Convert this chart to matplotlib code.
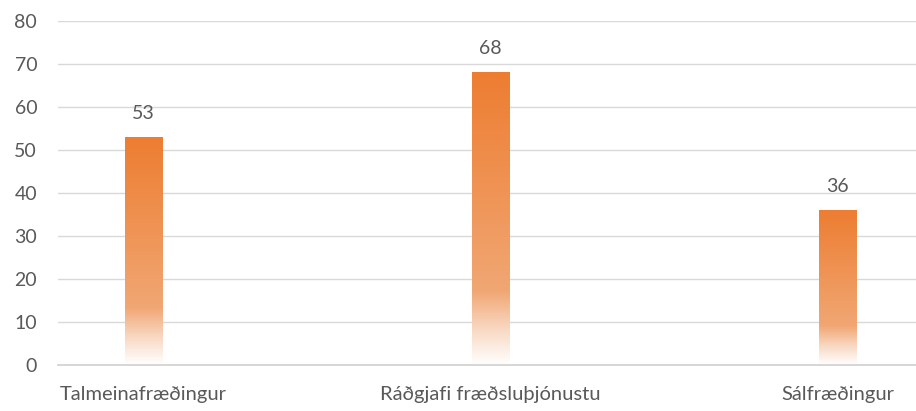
import numpy as np
import matplotlib
matplotlib.use("Agg")
import matplotlib.pyplot as plt
from matplotlib.colors import LinearSegmentedColormap

categories = ["Talmeinafræðingur", "Ráðgjafi fræðsluþjónustu", "Sálfræðingur"]
values = [53, 68, 36]
yticks = [0, 10, 20, 30, 40, 50, 60, 70, 80]

plt.rcParams['font.family'] = ['Lato', 'DejaVu Sans']
text_color = "#595959"

fig = plt.figure(figsize=(9.16, 4.11), dpi=100)
ax = fig.add_axes([58/916, 46/411, 1 - 58/916, (365-21)/411])

cmap = LinearSegmentedColormap.from_list(
    "grad",
    [(0.0, "#FFFFFF"), (0.12, "#F8D9C3"), (0.25, "#F1A774"), (1.0, "#ED7D31")])

width = 0.107
x = np.arange(len(categories))
grad = np.linspace(0, 1, 256).reshape(-1, 1)
for xi, v in zip(x, values):
    ax.imshow(grad, cmap=cmap, origin="lower", aspect="auto",
              extent=[xi - width/2, xi + width/2, 0, v], zorder=2,
              interpolation="bilinear")
    ax.annotate(str(v), (xi, v), xytext=(0, 11), textcoords="offset points",
                ha="center", va="bottom", fontsize=14, color=text_color)

ax.set_xlim(-0.246, 2.226)
ax.set_ylim(0, 80)
ax.set_yticks(yticks)
ax.set_xticks(x)
ax.set_xticklabels(categories, fontsize=14.5)
ax.grid(axis="y", color="#D9D9D9", linewidth=1.0, zorder=0)
ax.set_axisbelow(True)
for s in ["top", "right", "left"]:
    ax.spines[s].set_visible(False)
ax.spines["bottom"].set_color("#D0D0D0")
ax.spines["bottom"].set_linewidth(1.2)
ax.tick_params(axis="y", length=0, labelsize=14, colors=text_color, pad=15)
ax.tick_params(axis="x", length=0, colors=text_color, pad=15)

fig.savefig("out.png", dpi=100)
